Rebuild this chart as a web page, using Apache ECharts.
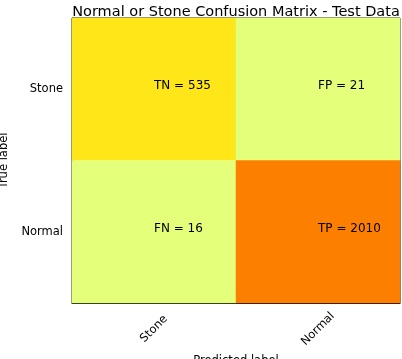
<!DOCTYPE html>
<html><head><meta charset="utf-8">
<script src="https://cdn.jsdelivr.net/npm/echarts@6/dist/echarts.min.js"></script>
<style>html,body{margin:0;padding:0;background:#fff}#c{width:402px;height:359px}</style>
</head><body><div id="c"></div>
<script>
const categories = ['Stone', 'Normal'];
const cellNames = [['TN', 'FP'], ['FN', 'TP']];
const values = [[535, 21], [16, 2010]];
const wistia = ['#e4ff7a', '#ffe81a', '#ffbd00', '#ffa000', '#fc7f00'];

const data = [];
for (let i = 0; i < 2; i++) for (let j = 0; j < 2; j++) {
  data.push({ value: [j, i, values[i][j]], name: cellNames[i][j] });
}
const FONT = 'DejaVu Sans';
const chart = echarts.init(document.getElementById('c'));
chart.setOption({
  animation: false,
  textStyle: { fontFamily: FONT },
  title: {
    text: 'Normal or Stone Confusion Matrix - Test Data',
    left: 231, top: 0, textAlign: 'center',
    textStyle: { fontFamily: FONT, fontSize: 14.5, fontWeight: 'normal', color: '#000' }
  },
  grid: { left: 72, top: 18, width: 328, height: 285, containLabel: false, outerBoundsMode: 'none', show: true, borderColor: '#000', borderWidth: 1, backgroundColor: 'transparent' },
  xAxis: {
    type: 'category', data: categories,
    name: 'Predicted label', nameLocation: 'middle', nameGap: 48,
    nameTextStyle: { fontFamily: FONT, fontSize: 11.5, color: '#000' },
    axisLine: { lineStyle: { color: '#000' } },
    axisTick: { alignWithLabel: true, length: 4, lineStyle: { color: '#000' } },
    axisLabel: { rotate: 45, align: 'center', verticalAlign: 'middle', margin: 26, fontFamily: FONT, fontSize: 11.5, color: '#000' },
    splitLine: { show: false }
  },
  yAxis: {
    type: 'category', data: categories, inverse: true,
    name: 'True label', nameLocation: 'middle', nameGap: 59, nameRotate: 90,
    nameTextStyle: { fontFamily: FONT, fontSize: 11.5, color: '#000' },
    axisLine: { lineStyle: { color: '#000' } },
    axisTick: { alignWithLabel: true, length: 4, lineStyle: { color: '#000' } },
    axisLabel: { margin: 9, fontFamily: FONT, fontSize: 11.5, color: '#000' },
    splitLine: { show: false }
  },
  visualMap: { show: false, min: 16, max: 2010, dimension: 2, inRange: { color: wistia } },
  series: [{
    type: 'heatmap', data: data,
    label: {
      show: true, position: 'inside', align: 'left', verticalAlign: 'bottom', offset: [0, 3],
      fontFamily: FONT, fontSize: 12, color: '#000',
      formatter: p => p.name + ' = ' + p.value[2]
    },
    emphasis: { disabled: true }
  }]
});
</script></body></html>
